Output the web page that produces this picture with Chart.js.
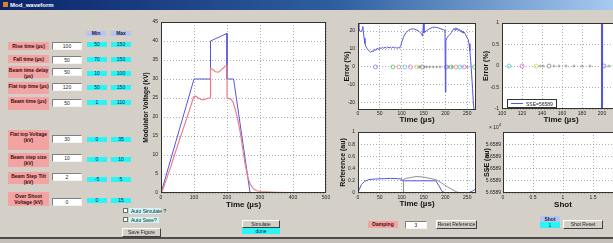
<!DOCTYPE html>
<html>
<head>
<meta charset="utf-8">
<script src="https://cdn.jsdelivr.net/npm/chart.js@4.4.1/dist/chart.umd.min.js"></script>
<style>
  html, body { margin: 0; padding: 0; width: 613px; height: 243px; overflow: hidden;
    background: #d4d0c8; font-family: "Liberation Sans", Arial, sans-serif; }
  .abs { position: absolute; box-sizing: border-box; }
  canvas { position: absolute; }
  #titlebar { left: 0; top: 0; width: 613px; height: 10px;
    background: linear-gradient(90deg, #0a246a 0%, #2f5fa0 55%, #a6caf0 100%); }
  #titlebar span { position: absolute; left: 10px; top: 1px; font: bold 6px/8px "Liberation Sans", Arial; color: #fff; }
  #titlebar i { position: absolute; left: 3px; top: 2px; width: 5px; height: 5px; background: #e08020; }
  .lab { background: #f4a3a3; font-weight: bold; font-size: 5px; line-height: 6px; color: #3a0a0a;
    text-align: center; white-space: pre-line; padding-top: 1px; }
  .edit { background: #fff; border-top: 1px solid #808080; border-left: 1px solid #808080;
    border-right: 1px solid #f4f4f4; border-bottom: 1px solid #f4f4f4;
    font-size: 5px; line-height: 6px; text-align: center; color: #222; }
  .cyan { background: #2cf4f4; font-size: 5px; line-height: 5px; text-align: center; color: #124; }
  .hdr { background: #b5c4f2; font-weight: bold; font-size: 5px; line-height: 5px; text-align: center; color: #223; }
  .btn { background: #d4d0c8; border-top: 1px solid #fff; border-left: 1px solid #fff;
    border-right: 1px solid #404040; border-bottom: 1px solid #404040;
    font-size: 5px; line-height: 6px; text-align: center; color: #222; white-space: nowrap; }
  .chk { background: #fff; border: 1px solid #707070; }
  .chklab { background: #ccf7f4; font-size: 5px; line-height: 6px; color: #223; padding-left: 2px; white-space: nowrap; }
  .legend { background: #fff; border: 1px solid #333; font-size: 5px; line-height: 6px; color: #222; white-space: nowrap; }
</style>
</head>
<body>
<div id="titlebar" class="abs"><i></i><span>Mod_waveform</span></div>
<div id="panel"></div>

<canvas id="mainChart"></canvas>
<canvas id="errChart"></canvas>
<canvas id="refChart"></canvas>
<canvas id="errZoomChart"></canvas>
<canvas id="sseChart"></canvas>

<div class="abs legend" style="left:507px;top:99px;width:50px;height:9px;">
  <div class="abs" style="left:3px;top:3px;width:12px;height:1px;background:#5555dd;"></div>
  <span class="abs" style="left:18px;top:1px;">SSE=56589</span>
</div>
<div class="abs" style="left:489px;top:122px;font-size:5px;line-height:6px;color:#222;white-space:nowrap;">&times; 10<sup style="font-size:4px;">4</sup></div>

<div class="abs chk" style="left:123px;top:208px;width:5px;height:5px;"></div>
<div class="abs chklab" style="left:129px;top:208px;width:32px;height:6px;">Auto Simulate ?</div>
<div class="abs chk" style="left:123px;top:217px;width:5px;height:5px;"></div>
<div class="abs chklab" style="left:129px;top:217px;width:30px;height:6px;">Auto Save?</div>
<div class="abs btn" style="left:122px;top:228px;width:39px;height:9px;line-height:7px;">Save Figure</div>
<div class="abs btn" style="left:242px;top:220px;width:38px;height:8px;">Simulate</div>
<div class="abs cyan" style="left:242px;top:228px;width:38px;height:6px;line-height:6px;">done</div>

<div class="abs lab" style="left:368px;top:221px;width:30px;height:7px;padding-top:0;">Damping</div>
<div class="abs edit" style="left:405px;top:221px;width:22px;height:8px;">3</div>
<div class="abs btn" style="left:436px;top:220px;width:41px;height:9px;">Reset Reference</div>
<div class="abs hdr" style="left:540px;top:216px;width:20px;height:6px;line-height:6px;">Shot</div>
<div class="abs cyan" style="left:540px;top:222px;width:20px;height:6px;line-height:6px;">1</div>
<div class="abs btn" style="left:563px;top:220px;width:40px;height:9px;">Shot Reset</div>

<div class="abs" style="left:0;top:237px;width:613px;height:2px;background:#4a4a4a;"></div>
<div class="abs" style="left:0;top:239px;width:613px;height:4px;background:#c4c0b8;"></div>

<script>
  // Input panel values
  const paramLabels = ["Rise time (µs)", "Fall time (µs)", "Beam time delay\n(µs)", "Flat top time (µs)",
    "Beam time (µs)", "Flat top Voltage\n(kV)", "Beam step size\n(kV)", "Beam Step Tilt (kV)", "Over Shoot\nVoltage (kV)"];
  const paramValues = [100, 50, 50, 120, 50, 30, 10, 2, 0];
  const paramMin = [50, 70, 10, 50, 1, 0, 0, -5, 0];
  const paramMax = [150, 150, 100, 150, 110, 35, 10, 5, 15];

  // Modulator voltage (kV) vs time (µs)
  const idealTime = [0, 100, 150, 150, 200, 200, 220, 270];
  const idealVolt = [0, 30, 30, 40, 42, 30, 30, 0];
  const simTime = [0, 5, 10, 20, 30, 40, 50, 60, 70, 80, 90, 97, 100, 105, 115, 125, 135, 145, 150, 150, 155, 165,
    175, 185, 195, 200, 200, 205, 212, 218, 225, 232, 240, 248, 255, 262, 270, 280, 290, 300, 320, 350, 400, 450, 500];
  const simVolt = [0, 0.8, 2, 4.5, 7, 9.8, 12.4, 15, 17.6, 20.2, 22.8, 24.8, 25.4, 25.5, 24.9, 24.5, 24.7, 25, 25, 32.8, 32.6, 31.9,
    31.8, 32.6, 33.4, 33.6, 25, 24.9, 24.7, 24, 22, 19.5, 16, 11.5, 7.5, 4.5, 2.4, 1.1, 0.6, 0.4, 0.3, 0.2, 0.1, 0.1, 0.1];

  // Error (%) vs time (µs)
  const errTime = [0, 2, 4, 6, 8, 10, 11, 12, 14, 16, 18, 20, 23, 26, 29, 32, 35, 38, 41, 44, 47, 50, 53, 56, 59, 62, 65, 68,
    71, 74, 77, 80, 83, 86, 89, 92, 95, 98, 101, 104, 107, 110, 115, 120, 125, 130, 135, 140, 145, 148, 150, 151, 153, 156,
    160, 165, 170, 175, 180, 185, 190, 195, 198, 199, 200, 201, 203, 206, 210, 214, 217, 220, 222, 224, 226, 228, 230, 232,
    234, 236, 238, 240, 242, 244, 246, 248, 250, 252, 254, 256, 258, 260, 262, 264, 266, 268];
  const errValue = [26, 22, 20, 19.5, 20, 21, 22.5, 20, 16, 13, 11.5, 10.5, 9.5, 8.8, 8.2, 9, 8.5, 9.8, 9.2, 10.5, 9.6, 10.8, 10.2,
    11, 10.4, 11, 10.5, 11.2, 10.6, 11, 10.5, 11.2, 10.6, 11, 10.4, 10.8, 10.5, 12, 14.5, 16.5, 18, 19.2, 20.3, 21, 21.3, 21, 20.5,
    19.8, 18.5, 17.2, 26, 19, 19.5, 20, 20.8, 21.5, 22, 22.2, 22, 21.7, 21.2, 20.8, 20.5, 20, -14, 14.5, 16, 17, 18, 19.2, 20.5,
    21.5, 20.5, 21.8, 20.8, 21.5, 20.2, 21, 19.8, 20.5, 19.2, 20, 18.8, 19.2, 18, 17.2, 16, 15.5, 13, 9, 3, -4, -12, -20, -26, -30];
  const markerTime = [40, 80, 93, 107, 120, 134, 147, 202, 213, 224, 233, 243, 267];
  const markerLevel = [0, 0, 0, 0, 0, 0, 0, 0, 0, 0, 0, 0, 0];
  const markerColor = ["#7f7fe6", "#5cc05c", "#f08a8a", "#45d4d4", "#e070d8", "#d8d860", "#8a8a8a",
    "#7f7fe6", "#5cc05c", "#f08a8a", "#45d4d4", "#e070d8", "#5cc05c"];
  const crossTime = [138, 141, 152, 157, 164, 172, 180, 188, 207, 216, 250];
  const crossLevel = [0, 0, 0, 0, 0, 0, 0, 0, 0, 0, 0];

  // Reference (au) vs time (µs)
  const refTimeA = [0, 3, 8, 15, 25, 40, 60, 75, 90, 100, 101, 105, 120, 140, 160, 178, 185, 192, 197, 210, 230, 245, 255, 262, 268];
  const refA = [0, 0.06, 0.14, 0.19, 0.22, 0.23, 0.235, 0.24, 0.235, 0.23, 0.2, 0.2, 0.2, 0.2, 0.2, 0.2, 0.12, 0.03, 0.01, 0,
    -0.005, 0, 0.01, 0.03, 0.06];
  const refTimeB = [0, 103, 104, 110, 125, 135, 150, 165, 178, 190, 205, 215, 225, 235, 270];
  const refB = [0, 0, 0.22, 0.24, 0.26, 0.27, 0.26, 0.24, 0.22, 0.17, 0.1, 0.06, 0.02, 0, 0];

  // SSE axis tick labels (×10^4), bottom to top
  const sseTickLabels = ["5.6589", "5.6589", "5.6589", "5.6589", "5.6589", "5.659"];

  const FONT = '"Liberation Sans", Arial, sans-serif';
  const BLUE = "#5555dd";
  const RED = "#ee7f8a";

  // ---- input panel ----
  const rowLayout = [[42, 8, 42, 42], [55, 8, 56, 57], [66, 12, 68, 71], [82, 12, 83, 85], [97, 13, 99, 100],
    [130, 20, 135, 137], [153, 14, 154, 157], [172, 12, 173, 177], [192, 14, 198, 198]];
  const panel = document.getElementById("panel");
  function box(cls, x, y, w, h, text) {
    const d = document.createElement("div");
    d.className = "abs " + cls;
    d.style.cssText = `left:${x}px;top:${y}px;width:${w}px;height:${h}px;`;
    d.textContent = text;
    panel.appendChild(d);
  }
  box("hdr", 86, 31, 20, 5, "Min");
  box("hdr", 111, 31, 20, 5, "Max");
  paramLabels.forEach((lbl, i) => {
    const [ly, lh, ey, cy] = rowLayout[i];
    box("lab", 8, ly, 41, lh, lbl);
    box("edit", 52, ey, 30, 8, String(paramValues[i]));
    box("cyan", 87, cy, 20, 5, String(paramMin[i]));
    box("cyan", 111, cy, 20, 5, String(paramMax[i]));
  });

  // ---- charts ----
  const frame = {
    id: "frame",
    beforeDraw(c) {
      const a = c.chartArea;
      c.ctx.save();
      c.ctx.fillStyle = "#fff";
      c.ctx.fillRect(a.left, a.top, a.width, a.height);
      c.ctx.restore();
    },
    afterDraw(c) {
      const a = c.chartArea;
      c.ctx.save();
      c.ctx.strokeStyle = "#333";
      c.ctx.lineWidth = 1;
      c.ctx.strokeRect(a.left + 0.5, a.top + 0.5, a.width - 1, a.height - 1);
      c.ctx.restore();
    }
  };

  function axis(o) {
    return {
      type: "linear",
      min: o.min,
      max: o.max,
      afterFit: (s) => { if (s.isHorizontal()) s.height = o.size; else s.width = o.size; },
      ticks: { stepSize: o.step, autoSkip: false, maxRotation: 0, includeBounds: false,
        padding: o.pad ?? 2, color: "#222", font: { family: FONT, size: 5 }, callback: o.fmt },
      grid: { color: "#8c8c8c", lineWidth: 0.7, drawTicks: false },
      border: { display: false, dash: [1, 2] },
      title: { display: true, text: o.title, color: "#111", padding: 0,
        font: { family: FONT, size: o.tsize ?? 7, weight: "bold" } }
    };
  }

  function xy(xs, ys) { return xs.map((x, i) => ({ x: x, y: ys[i] })); }

  function place(id, l, t, r, b, yW, xH, padTop, padRight) {
    const c = document.getElementById(id);
    const w = r - l + yW + padRight, h = b - t + padTop + xH;
    c.width = w; c.height = h;
    c.style.left = (l - yW) + "px"; c.style.top = (t - padTop) + "px";
    c.style.width = w + "px"; c.style.height = h + "px";
    return c;
  }

  function make(canvas, datasets, xAxis, yAxis, padTop, padRight) {
    return new Chart(canvas, {
      type: "line",
      data: { datasets: datasets },
      options: {
        responsive: false, animation: false, devicePixelRatio: 1,
        layout: { padding: { top: padTop, right: padRight, left: 0, bottom: 0 } },
        plugins: { legend: { display: false }, tooltip: { enabled: false } },
        elements: { point: { radius: 0 }, line: { tension: 0 } },
        scales: { x: xAxis, y: yAxis }
      },
      plugins: [frame]
    });
  }

  function markerSets() {
    return [
      { data: xy(markerTime, markerLevel), showLine: false, pointStyle: "circle", pointRadius: 2,
        pointBorderWidth: 0.8, pointBorderColor: markerColor, pointBackgroundColor: "rgba(0,0,0,0)" },
      { data: xy(crossTime, crossLevel), showLine: false, pointStyle: "cross", pointRadius: 1.5,
        pointBorderWidth: 0.6, pointBorderColor: "#777" }
    ];
  }

  // main modulator voltage plot
  make(place("mainChart", 161, 21, 326, 193, 19, 17, 5, 7), [
    { data: xy(simTime, simVolt), borderColor: RED, borderWidth: 1.2 },
    { data: xy(idealTime, idealVolt), borderColor: BLUE, borderWidth: 1 }
  ],
  axis({ min: 0, max: 500, step: 100, size: 17, title: "Time (µs)", tsize: 8 }),
  axis({ min: 0, max: 45, step: 5, size: 19, pad: 3, title: "Modulator Voltage (kV)", tsize: 6.5 }), 5, 7);

  // error plot
  make(place("errChart", 358, 21, 476, 110, 15, 15, 4, 6), [
    { data: xy(errTime, errValue), borderColor: BLUE, borderWidth: 1 },
    ...markerSets()
  ],
  axis({ min: 0, max: 270, step: 50, size: 15, pad: 1, title: "Time (µs)", tsize: 8 }),
  axis({ min: -24, max: 24.5, step: 10, size: 15, pad: 3, title: "Error (%)", tsize: 7 }), 4, 6);

  // reference plot
  make(place("refChart", 358, 130, 476, 193, 19, 16, 4, 6), [
    { data: xy(refTimeB, refB), borderColor: "#909090", borderWidth: 1 },
    { data: xy(refTimeA, refA), borderColor: BLUE, borderWidth: 1 }
  ],
  axis({ min: 0, max: 270, step: 50, size: 16, pad: 2, title: "Time (µs)", tsize: 8 }),
  axis({ min: 0, max: 1, step: 0.2, size: 19, pad: 3, title: "Reference (au)", tsize: 7,
    fmt: (v) => String(+v.toFixed(1)) }), 4, 6);

  // zoomed error plot
  make(place("errZoomChart", 502, 21, 620, 109, 20, 16, 4, 6), [
    { data: xy(errTime, errValue), borderColor: BLUE, borderWidth: 1.2 },
    ...markerSets()
  ],
  axis({ min: 100, max: 218, step: 20, size: 16, pad: 2, title: "Time (µs)", tsize: 8 }),
  axis({ min: -1, max: 1, step: 0.5, size: 20, pad: 3, title: "Error (%)", tsize: 7 }), 4, 6);

  // SSE vs shot
  make(place("sseChart", 503, 131, 623, 193, 20, 17, 4, 6), [],
  axis({ min: 0, max: 2, step: 0.5, size: 17, pad: 2, title: "Shot", tsize: 8 }),
  axis({ min: 5.6589, max: 5.659, step: 0.00002, size: 20, pad: 2, title: "SSE (au)", tsize: 7,
    fmt: (v, i) => sseTickLabels[i] }), 4, 6);
</script>
</body>
</html>
